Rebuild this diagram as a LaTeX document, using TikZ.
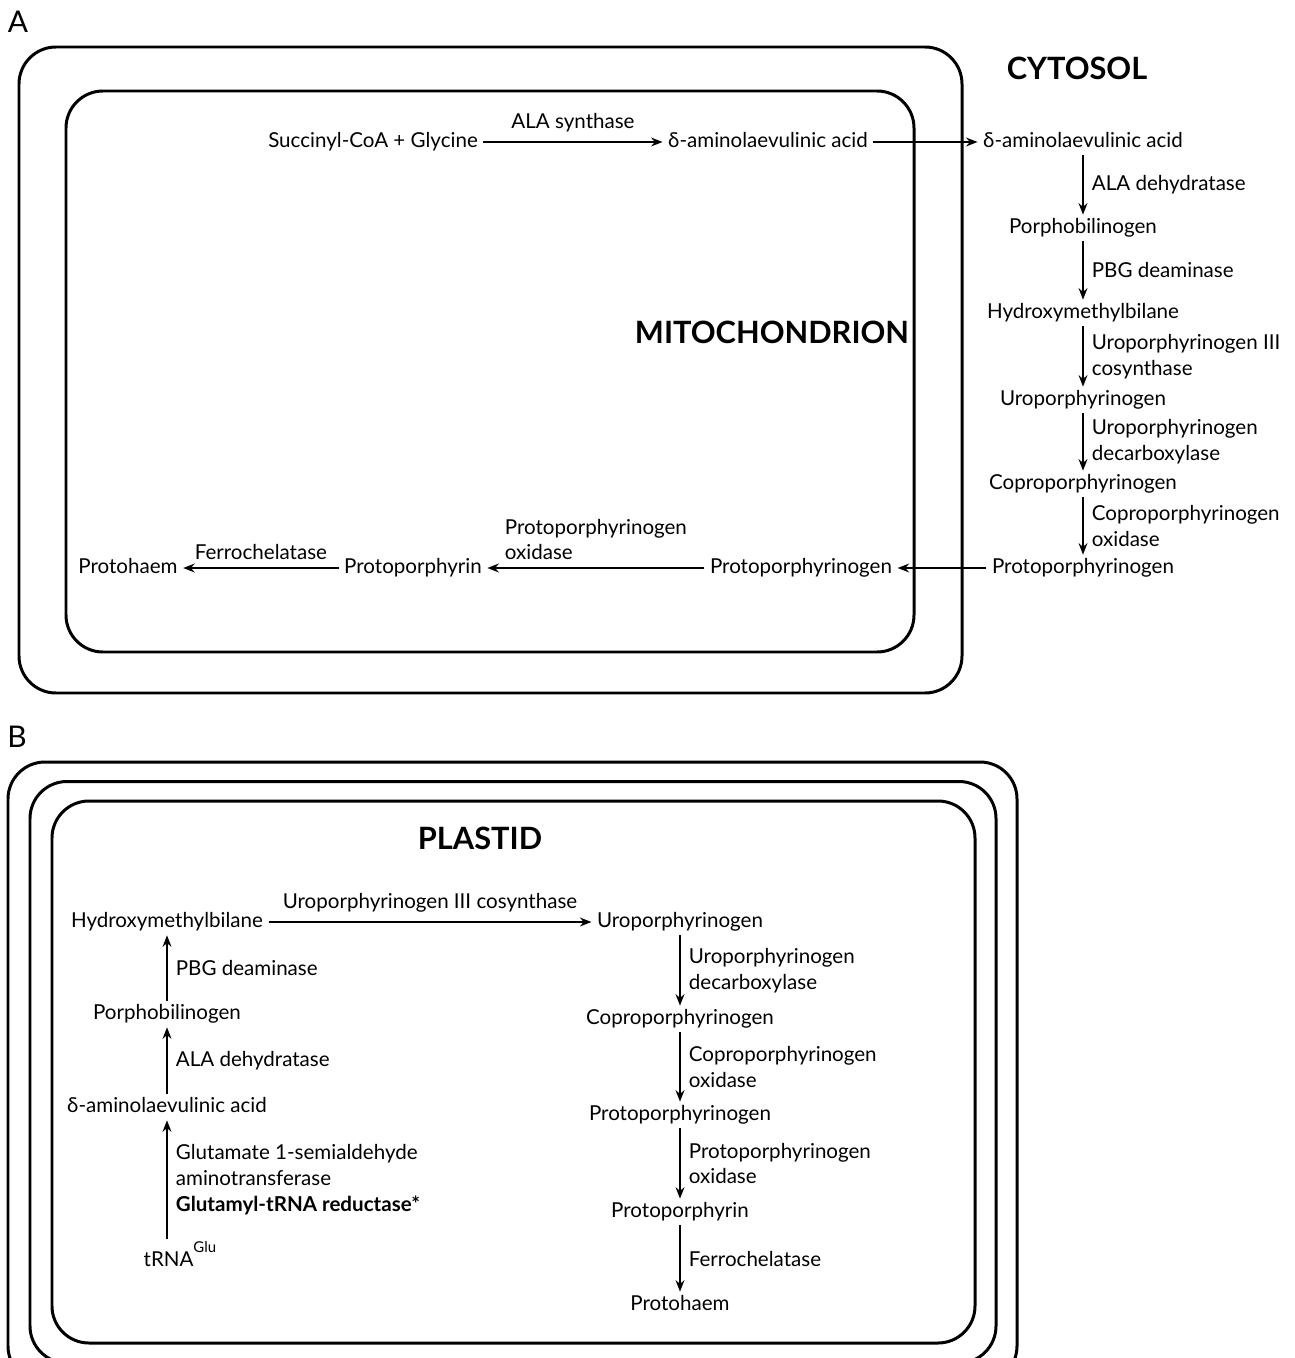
\documentclass[tikz,border=0pt]{standalone}
\usepackage{fontspec}
\setmainfont{Lato}
\usetikzlibrary{arrows.meta}

\tikzset{
  met/.style={inner xsep=3pt, inner ysep=2pt, text height=8.4pt, text depth=2.4pt,
    font=\fontsize{11.7}{14.7}\selectfont},
  enz/.style={inner sep=2pt, align=left, font=\fontsize{11.7}{14.7}\selectfont},
  rxn/.style={line width=1.1pt, -{Stealth[length=6.5pt, width=5pt]}},
  wall/.style={line width=1.7pt, rounded corners=\rad},
  comp/.style={font=\bfseries\fontsize{17.5}{20}\selectfont},
  panel/.style={font=\fontsize{17}{20}\selectfont}
}

\begin{document}
\begin{tikzpicture}[x=0.02cm, y=-0.02cm]

\def\rad{0.74cm}
\def\gap{2.5pt}

\useasboundingbox (0,0) rectangle (1294,1358);

%panel A
\node[panel] (la) at (18,22) {A};
\draw[wall] (19,47) rectangle (962,693);
\draw[wall] (66,91) rectangle (914,652);

\node[comp] (cyt) at (1077,68) {CYTOSOL};
\node[comp] (mito) at (772,332) {MITOCHONDRION};

%mitochondrion, top row
\node[met] (succ) at (373,142) {Succinyl-CoA + Glycine};
\node[met] (mala) at (768,142) {δ-aminolaevulinic acid};
\node[met] (cala) at (1083,142) {δ-aminolaevulinic acid};

%cytosol column
\foreach \n/\t/\y in {cpbg/Porphobilinogen/228, chmb/Hydroxymethylbilane/313,
    curo/Uroporphyrinogen/400, ccopro/Coproporphyrinogen/484,
    cprotog/Protoporphyrinogen/568}{
  \node[met] (\n) at (1083,\y) {\t};
}

%mitochondrion, bottom row
\node[met] (mprotog) at (801,568) {Protoporphyrinogen};
\node[met] (mpp) at (413,568) {Protoporphyrin};
\node[met] (mhaem) at (128,568) {Protohaem};

\draw[rxn] (succ) -- node[enz, above=3pt] {ALA synthase} (mala);
\draw[rxn] (mala) -- (cala);
\draw[rxn] (cala) -- node[enz, right=\gap] {ALA dehydratase} (cpbg);
\draw[rxn] (cpbg) -- node[enz, right=\gap] {PBG deaminase} (chmb);
\draw[rxn] (chmb) -- node[enz, right=\gap] {Uroporphyrinogen III\\cosynthase} (curo);
\draw[rxn] (curo) -- node[enz, right=\gap] {Uroporphyrinogen\\decarboxylase} (ccopro);
\draw[rxn] (ccopro) -- node[enz, right=\gap] {Coproporphyrinogen\\oxidase} (cprotog);
\draw[rxn] (cprotog) -- (mprotog);
\draw[rxn] (mprotog) -- node[enz, above=2pt] {Protoporphyrinogen\\oxidase} (mpp);
\draw[rxn] (mpp) -- node[enz, above=2pt] {Ferrochelatase} (mhaem);

%panel B
\node[panel] (lb) at (17,737) {B};
\foreach \k in {0,1,2}{
  \draw[wall] (8+22*\k,762+19.5*\k) rectangle (1017-21*\k,1383-20*\k);
}

\node[comp] (plast) at (480,838) {PLASTID};

%left column
\node[met] (bhmb) at (167,922) {Hydroxymethylbilane};
\node[met] (bpbg) at (167,1014) {Porphobilinogen};
\node[met] (bala) at (167,1107) {δ-aminolaevulinic acid};
\node[met, text height=13pt, anchor=base west] (trna) at (138,1266)
  {tRNA\raisebox{7.5pt}{\fontsize{8.5}{9}\selectfont Glu}};
\coordinate (trnatop) at (bala |- trna.north);

%right column
\node[met] (buro) at (680,922) {Uroporphyrinogen};
\node[met] (bcopro) at (680,1019) {Coproporphyrinogen};
\node[met] (bprotog) at (680,1115) {Protoporphyrinogen};
\node[met] (bpp) at (680,1212) {Protoporphyrin};
\node[met] (bhaem) at (680,1305) {Protohaem};

\draw[rxn] (trnatop) -- node[enz, right=\gap] {Glutamate 1-semialdehyde\\aminotransferase\\\textbf{Glutamyl-tRNA reductase*}} (bala);
\draw[rxn] (bala) -- node[enz, right=\gap] {ALA dehydratase} (bpbg);
\draw[rxn] (bpbg) -- node[enz, right=\gap] {PBG deaminase} (bhmb);
\draw[rxn] (bhmb) -- node[enz, above=3pt] {Uroporphyrinogen III cosynthase} (buro);
\draw[rxn] (buro) -- node[enz, right=\gap] {Uroporphyrinogen\\decarboxylase} (bcopro);
\draw[rxn] (bcopro) -- node[enz, right=\gap] {Coproporphyrinogen\\oxidase} (bprotog);
\draw[rxn] (bprotog) -- node[enz, right=\gap] {Protoporphyrinogen\\oxidase} (bpp);
\draw[rxn] (bpp) -- node[enz, right=\gap] {Ferrochelatase} (bhaem);

\end{tikzpicture}
\end{document}
